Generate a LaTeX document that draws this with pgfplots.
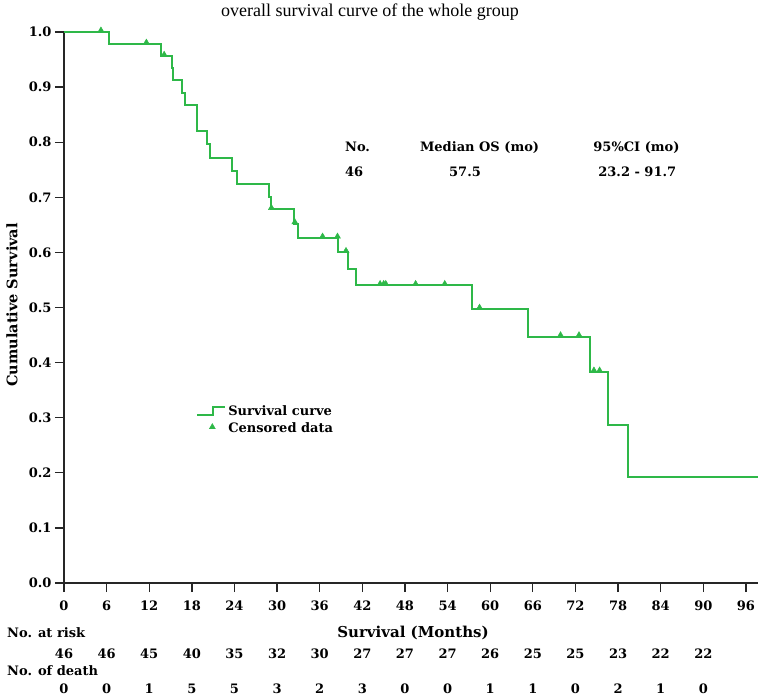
\documentclass[border=0pt]{standalone}
\usepackage{pgfplots}
\pgfplotsset{compat=1.18}
\usepackage{fontspec}
\setmainfont{DejaVu Serif}
\newfontfamily\titlefont{Liberation Serif}
\definecolor{kmgreen}{RGB}{46,184,72}
\pgfplotsset{
  steplegend/.style={legend image code/.code={\draw[##1] (0pt,-4pt) -- (16pt,-4pt) -- (16pt,4pt) -- (28pt,4pt);}},
  marklegend/.style={legend image code/.code={\draw[##1] plot coordinates {(15pt,0pt)}; \path (0pt,0pt) (28pt,0pt);}},
}
\begin{document}
\begin{tikzpicture}[font=\fontsize{13}{15}\selectfont\bfseries]
\useasboundingbox (-64pt,-114pt) rectangle (698pt,583pt);
\begin{axis}[
  at={(0,0)}, anchor=south west,
  scale only axis, width=694pt, height=551pt,
  xmin=0, xmax=97.7, ymin=0, ymax=1,
  axis x line*=bottom, axis y line*=left,
  axis line style={-, line width=1.3pt, black!85},
  every tick/.style={line width=1.3pt, black!85},
  tick align=outside, major tick length=9pt,
  xtick={0,6,12,18,24,30,36,42,48,54,60,66,72,78,84,90,96},
  ytick={0,0.1,0.2,0.3,0.4,0.5,0.6,0.7,0.8,0.9,1.0},
  yticklabel style={/pgf/number format/.cd, fixed, fixed zerofill, precision=1},
  xticklabel style={yshift=-5pt},
  /pgf/number format/assume math mode=true,
  ticklabel style={font=\fontsize{13}{15}\selectfont\bfseries},
  clip=false,
  legend style={at={(axis cs:18.6,0.326)}, anchor=north west, draw=none, fill=none,
    inner sep=0pt, row sep=2pt, cells={anchor=west},
    font=\fontsize{13}{15}\selectfont\bfseries},
]
\addplot[const plot mark left, color=kmgreen, line width=2pt, steplegend]
coordinates {
(0,1.0) (6.4,0.978) (13.6,0.956) (15.2,0.934) (15.4,0.912) (16.6,0.889)
(17.0,0.867) (18.7,0.820) (20.1,0.796) (20.5,0.772) (23.7,0.748) (24.4,0.725)
(28.8,0.701) (29.1,0.678) (32.4,0.652) (32.9,0.626) (38.6,0.600) (40.0,0.570)
(41.1,0.540) (57.5,0.497) (65.3,0.447) (74.0,0.383) (76.6,0.287) (79.4,0.192)
(97.7,0.192)
};
\addlegendentry{Survival curve}
\addplot[only marks, mark=triangle*, mark size=3.5pt, color=kmgreen,
  mark options={yshift=1.6pt, line width=0.4pt}, marklegend]
coordinates {
(5.2,1.0) (11.6,0.978) (14.1,0.956) (29.2,0.678) (32.5,0.652) (36.4,0.626)
(38.5,0.626) (39.7,0.600) (44.5,0.540) (45.0,0.540) (45.3,0.540) (49.5,0.540)
(53.6,0.540) (58.5,0.497) (69.9,0.447) (72.5,0.447) (74.6,0.383) (75.4,0.383)
};
\addlegendentry{Censored data}
% annotation
\node[anchor=west, inner sep=0pt] at (axis cs:39.55,0.791) {No.};
\node[anchor=west, inner sep=0pt] at (axis cs:50.1,0.791) {Median OS (mo)};
\node[anchor=west, inner sep=0pt] at (axis cs:74.5,0.791) {95\%CI (mo)};
\node[anchor=west, inner sep=0pt] at (axis cs:39.55,0.746) {46};
\node[inner sep=0pt] at (axis cs:56.45,0.746) {57.5};
\node[anchor=west, inner sep=0pt] at (axis cs:75.2,0.746) {23.2 - 91.7};
% risk table
\begin{scope}[every node/.style={inner sep=0pt}]
\node at (axis cs:0,0)  [yshift=-71pt] {46};
\node at (axis cs:6,0)  [yshift=-71pt] {46};
\node at (axis cs:12,0) [yshift=-71pt] {45};
\node at (axis cs:18,0) [yshift=-71pt] {40};
\node at (axis cs:24,0) [yshift=-71pt] {35};
\node at (axis cs:30,0) [yshift=-71pt] {32};
\node at (axis cs:36,0) [yshift=-71pt] {30};
\node at (axis cs:42,0) [yshift=-71pt] {27};
\node at (axis cs:48,0) [yshift=-71pt] {27};
\node at (axis cs:54,0) [yshift=-71pt] {27};
\node at (axis cs:60,0) [yshift=-71pt] {26};
\node at (axis cs:66,0) [yshift=-71pt] {25};
\node at (axis cs:72,0) [yshift=-71pt] {25};
\node at (axis cs:78,0) [yshift=-71pt] {23};
\node at (axis cs:84,0) [yshift=-71pt] {22};
\node at (axis cs:90,0) [yshift=-71pt] {22};
\node at (axis cs:0,0)  [yshift=-106pt] {0};
\node at (axis cs:6,0)  [yshift=-106pt] {0};
\node at (axis cs:12,0) [yshift=-106pt] {1};
\node at (axis cs:18,0) [yshift=-106pt] {5};
\node at (axis cs:24,0) [yshift=-106pt] {5};
\node at (axis cs:30,0) [yshift=-106pt] {3};
\node at (axis cs:36,0) [yshift=-106pt] {2};
\node at (axis cs:42,0) [yshift=-106pt] {3};
\node at (axis cs:48,0) [yshift=-106pt] {0};
\node at (axis cs:54,0) [yshift=-106pt] {0};
\node at (axis cs:60,0) [yshift=-106pt] {1};
\node at (axis cs:66,0) [yshift=-106pt] {1};
\node at (axis cs:72,0) [yshift=-106pt] {0};
\node at (axis cs:78,0) [yshift=-106pt] {2};
\node at (axis cs:84,0) [yshift=-106pt] {1};
\node at (axis cs:90,0) [yshift=-106pt] {0};
\end{scope}
\end{axis}
\node[anchor=west, inner sep=0pt] at (-57pt,-50pt) {No. at risk};
\node[anchor=west, inner sep=0pt] at (-57pt,-88pt) {No. of death};
\node[font=\fontsize{15}{17}\selectfont\bfseries] at (349pt,-50pt) {Survival (Months)};
\node[rotate=90, font=\fontsize{14.5}{17}\selectfont\bfseries] at (-52pt,278pt) {Cumulative Survival};
\node[font=\titlefont\fontsize{18}{20}\selectfont] at (306pt,571pt) {overall survival curve of the whole group};
\end{tikzpicture}
\end{document}
